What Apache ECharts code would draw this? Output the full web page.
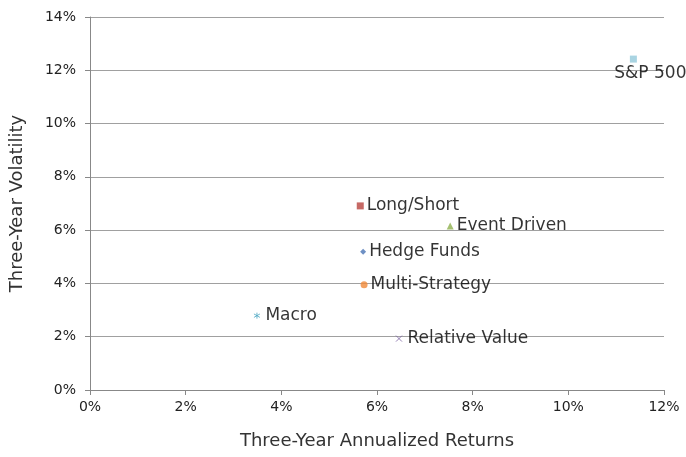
<!DOCTYPE html>
<html>
<head>
<meta charset="utf-8">
<script src="https://cdn.jsdelivr.net/npm/echarts@6/dist/echarts.min.js"></script>
<style>html,body{margin:0;padding:0;background:#fff;}#c{width:686px;height:457px;}</style>
</head>
<body>
<div id="c"></div>
<script>
var names = ['S&P 500', 'Long/Short', 'Event Driven', 'Hedge Funds', 'Multi-Strategy', 'Macro', 'Relative Value'];
var returns = [11.36, 5.65, 7.53, 5.71, 5.73, 3.49, 6.46];
var volatility = [12.42, 6.91, 6.16, 5.19, 3.95, 2.79, 1.93];
var xTicks = [0, 2, 4, 6, 8, 10, 12];
var yTicks = [0, 2, 4, 6, 8, 10, 12, 14];

var colors = ['#93C9DB', '#B8433F', '#8FB04E', '#4A74B5', '#F08A3A', '#4BA6C2', '#7B62A0'];
var symbols = [
  'rect',
  'rect',
  'triangle',
  'diamond',
  'circle',
  'path://M5,0 L5,10 M0,2.1 L10,7.9 M0,7.9 L10,2.1',
  'path://M0,0 L10,10 M0,10 L10,0'
];
var sizes = [7, 7, 7, 6, 7, 6, 6];
var font = '"DejaVu Sans", sans-serif';

var series = names.map(function (n, i) {
  var isLine = i >= 5;
  var lab = {
    show: true,
    formatter: n,
    position: 'right',
    distance: 3,
    color: '#000',
    fontSize: 17,
    fontFamily: font
  };
  if (i === 0) {
    lab.position = 'bottom';
    lab.distance = 0;
    lab.offset = [17, 2];
  }
  return {
    name: n,
    type: 'scatter',
    symbol: symbols[i],
    symbolSize: sizes[i],
    itemStyle: isLine ? { color: 'none', borderColor: colors[i], borderWidth: 1 } : { color: colors[i] },
    label: lab,
    data: [[returns[i], volatility[i]]]
  };
});

var chart = echarts.init(document.getElementById('c'));
chart.setOption({
  animation: false,
  grid: { left: 90, right: 22, top: 17, bottom: 67 },
  xAxis: {
    type: 'value', min: xTicks[0], max: xTicks[xTicks.length - 1], interval: 2,
    name: 'Three-Year Annualized Returns', nameLocation: 'middle', nameGap: 42,
    nameTextStyle: { fontSize: 18, color: '#333', fontFamily: font },
    axisLine: { show: true, lineStyle: { color: '#888' } },
    axisTick: { show: true, length: 5, lineStyle: { color: '#888' } },
    splitLine: { show: false },
    axisLabel: { formatter: '{value}%', fontSize: 14, color: '#222', margin: 10, fontFamily: font }
  },
  yAxis: {
    type: 'value', min: yTicks[0], max: yTicks[yTicks.length - 1], interval: 2,
    name: 'Three-Year Volatility', nameLocation: 'middle', nameGap: 64,
    nameTextStyle: { fontSize: 18, color: '#333', fontFamily: font },
    axisLine: { show: true, lineStyle: { color: '#888' } },
    axisTick: { show: true, length: 5, lineStyle: { color: '#888' } },
    splitLine: { show: true, lineStyle: { color: '#a0a0a0' } },
    axisLabel: { formatter: '{value}%', fontSize: 14, color: '#222', margin: 14, fontFamily: font }
  },
  series: series
});
</script>
</body>
</html>
